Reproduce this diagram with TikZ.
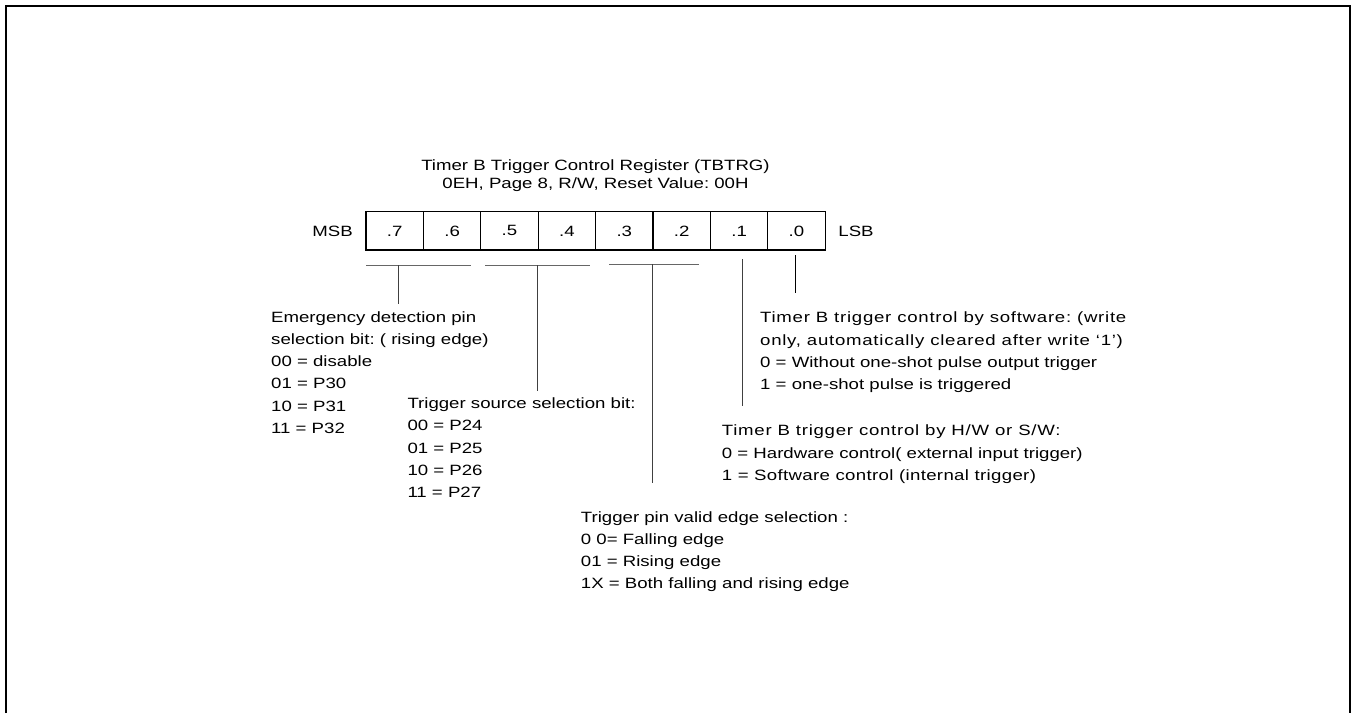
\documentclass[tikz,border=0pt]{standalone}
\usepackage{fontspec}
\setmainfont{Liberation Sans}[FakeStretch=1.25]
\usetikzlibrary{positioning}
\frenchspacing
\newcommand{\looser}[2][4.9]{{\addfontfeature{LetterSpace=#1}#2}}

\begin{document}
\begin{tikzpicture}[x=1pt, y=-1pt,
  font=\fontsize{14.9}{22.3}\selectfont, node distance=13pt,
  cell/.style={draw, line width=1.3pt, minimum width=57.4pt, minimum height=38.3pt, inner sep=0pt, outer sep=0pt},
  side/.style={inner sep=0pt},
  note/.style={anchor=north west, align=left, inner sep=0pt},
  brk/.style={line width=0.9pt, black!60},
  lead/.style={line width=0.9pt, black!75}]

% frame, open at the bottom
\useasboundingbox (0,0) rectangle (1352,713);
\draw[line width=2.2pt] (6,713) -- (6,5.7) -- (1349.9,5.7) -- (1349.9,713);

% register title
\node[align=center, inner sep=0pt, anchor=north, font=\fontsize{14.9}{18}\selectfont] (title) at (595.5,159.8)
  {Timer B Trigger Control Register (TBTRG)\\0EH, Page 8, R/W, Reset Value: 00H};

% register bits
\node[cell] (b7) at (394.7,230.9) {.7};
\node[cell, right=0pt of b7] (b6) {.6};
\node[cell, right=0pt of b6] (b5) {.5};
\node[cell, right=0pt of b5] (b4) {.4};
\node[cell, right=0pt of b4] (b3) {.3};
\node[cell, right=0pt of b3] (b2) {.2};
\node[cell, right=0pt of b2] (b1) {.1};
\node[cell, right=0pt of b1] (b0) {.0};
\node[side, left=of b7] (msb) {MSB};
\node[side, right=of b0] (lsb) {LSB};

% field notes
\node[note] (emg) at (271,311) {Emergency detection pin\\selection bit: ( rising edge)\\00 = disable\\01 = P30\\10 = P31\\11 = P32};
\node[note] (src) at (407.3,397.4) {Trigger source selection bit:\\00 = P24\\01 = P25\\10 = P26\\11 = P27};
\node[note] (edge) at (580.7,511) {Trigger pin valid edge selection :\\0 0= Falling edge\\01 = Rising edge\\1X = Both falling and rising edge};
\node[note] (hws) at (721.7,424.8) {\looser{Timer B trigger control by H/W or S/W:}\\0 = Hardware control( external input trigger)\\\looser[2.3]{1 = Software control (internal trigger)}};
\node[note] (soft) at (760,311.8) {\looser{Timer B trigger control by software: (write}\\\looser{only, automatically cleared after write `1')}\\0 = Without one-shot pulse output trigger\\1 = one-shot pulse is triggered};

% bit groups under the register
\coordinate (g76a) at (366,265);   \coordinate (g76b) at (470.7,265);
\coordinate (g54a) at (485,265);   \coordinate (g54b) at (590,265);
\coordinate (g32a) at (609.3,264); \coordinate (g32b) at (699.3,264);
\draw[brk] (g76a) -- (g76b);
\draw[brk] (g54a) -- (g54b);
\draw[brk] (g32a) -- (g32b);

% leaders down to the notes
\coordinate (l76) at (398.7,265);
\coordinate (l54) at (537.3,265);
\coordinate (l32) at (652,264);
\coordinate (l1) at (742.3,259.3);
\coordinate (l0) at (795.7,255);
\draw[lead, shorten >=7pt] (l76) -- (l76 |- emg.north);
\draw[lead, shorten >=6.7pt] (l54) -- (l54 |- src.north);
\draw[lead, shorten >=28.3pt] (l32) -- (l32 |- edge.north);
\draw[lead, shorten >=18.8pt] (l1) -- (l1 |- hws.north);
\draw[lead, black, shorten >=18.5pt] (l0) -- (l0 |- soft.north);
\end{tikzpicture}
\end{document}
